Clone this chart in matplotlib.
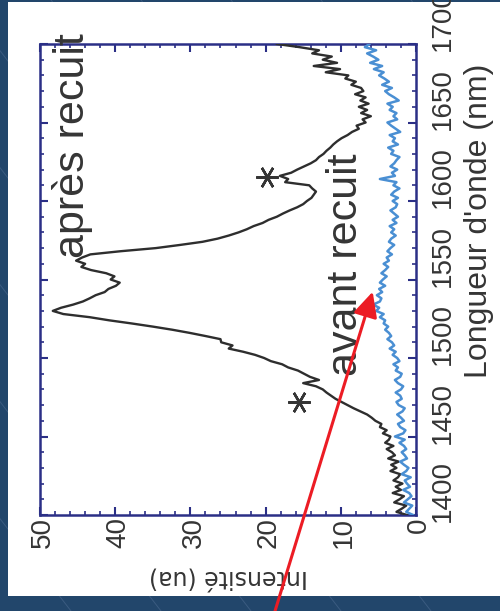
import matplotlib
matplotlib.use("Agg")
import matplotlib.pyplot as plt
from matplotlib import font_manager
from matplotlib.transforms import ScaledTranslation
from matplotlib.patches import Rectangle
from matplotlib.lines import Line2D

# ---------------------------------------------------------------- data
wavelength_nm = list(range(1400, 1702, 2))

intensity_apres = [
    1.2, 2.6, 1.9, 1.3, 2.9, 2.2, 1.6, 3.1, 2.0, 2.7,        # 1400-1418
    1.8, 3.0, 2.4, 2.1, 3.4, 2.6, 3.3, 2.3, 3.7, 2.8,        # 1420-1438
    3.2, 3.9, 3.0, 4.1, 3.6, 3.4, 4.4, 3.9, 4.8, 4.6,        # 1440-1458
    5.4, 5.9, 6.5, 7.4, 8.3, 9.1, 9.9, 10.7, 11.3, 11.9,     # 1460-1478
    12.4, 13.3, 15.0, 12.9, 14.1, 14.9, 15.7, 17.0, 17.8, 19.3,  # 1480-1498
    20.2, 21.4, 23.0, 24.9, 24.4, 25.9, 26.0, 28.0, 30.1, 32.4,  # 1500-1518
    35.0, 37.8, 40.8, 43.4, 46.9, 48.3, 47.2, 45.6, 44.3, 43.4,  # 1520-1538
    42.6, 41.4, 40.9, 39.9, 39.4, 40.6, 40.1, 41.2, 43.2, 44.5,  # 1540-1558
    44.0, 45.2, 44.4, 43.3, 39.3, 34.6, 31.4, 28.4, 26.4, 24.9,  # 1560-1578
    23.6, 22.5, 21.6, 20.4, 19.6, 18.5, 17.7, 16.8, 15.8, 15.0,  # 1580-1598
    14.5, 13.9, 13.6, 13.3, 13.8, 14.2, 17.4, 17.0, 18.1, 16.6,  # 1600-1618
    15.8, 14.9, 14.0, 13.3, 12.9, 12.3, 11.9, 11.4, 11.0, 10.5,  # 1620-1638
    9.9, 9.1, 8.5, 7.6, 7.9, 6.7, 7.1, 6.0, 7.3, 6.5,        # 1640-1658
    7.6, 6.3, 7.4, 6.7, 8.1, 7.0, 7.3, 8.6, 8.0, 9.4,        # 1660-1678
    9.0, 12.0, 10.1, 13.6, 10.5, 12.4, 11.2, 13.8, 12.9, 15.5,   # 1680-1698
    18.5,                                                    # 1700
]

intensity_avant = [
    0.4, 1.3, 0.9, 0.5, 1.6, 1.1, 0.6, 0.9, 1.7, 0.8,        # 1400-1418
    1.2, 1.5, 0.7, 1.9, 1.3, 1.0, 1.6, 2.1, 1.2, 1.5,        # 1420-1438
    1.9, 1.3, 1.6, 2.2, 1.5, 2.8, 1.7, 1.4, 2.1, 2.4,        # 1440-1458
    1.6, 2.0, 2.5, 1.8, 1.5, 2.3, 2.6, 1.9, 2.1, 2.7,        # 1460-1478
    2.0, 1.7, 2.4, 2.8, 2.1, 1.9, 2.7, 2.4, 3.0, 2.2,        # 1480-1498
    2.5, 3.1, 2.7, 3.5, 2.9, 3.2, 3.8, 3.3, 3.6, 4.1,        # 1500-1518
    3.7, 4.3, 4.1, 4.8, 4.3, 5.3, 4.9, 5.7, 4.8, 4.6,        # 1520-1538
    5.2, 4.5, 4.9, 4.1, 4.8, 4.4, 3.9, 4.6, 4.1, 3.7,        # 1540-1558
    4.3, 3.6, 3.9, 3.2, 3.8, 3.4, 2.9, 3.6, 3.3, 2.7,        # 1560-1578
    3.3, 2.9, 3.5, 2.6, 3.1, 2.4, 2.9, 3.4, 2.7, 2.5,        # 1580-1598
    3.1, 2.4, 3.3, 2.9, 2.2, 3.0, 2.6, 4.8, 2.8, 3.2,        # 1600-1618
    2.5, 3.4, 2.9, 2.6, 2.2, 3.3, 3.0, 3.7, 2.4, 3.1,        # 1620-1638
    2.8, 3.5, 2.1, 2.7, 3.3, 3.8, 2.5, 3.0, 2.6, 3.5,        # 1640-1658
    3.1, 3.8, 2.3, 2.9, 3.6, 4.1, 3.2, 4.5, 3.6, 4.2,        # 1660-1678
    4.9, 4.3, 5.6, 4.5, 6.1, 5.0, 5.7, 6.5, 5.3, 6.8,        # 1680-1698
    6.2,                                                     # 1700
]

intensity_ticks = [0, 10, 20, 30, 40, 50]
wavelength_ticks = [1400, 1450, 1500, 1550, 1600, 1650, 1700]

# marked features (intensity, wavelength)
star_intensity = [15.6, 19.8]
star_wavelength = [1472, 1615.6]

# ---------------------------------------------------------------- fonts
installed = {f.name for f in font_manager.fontManager.ttflist}
arial_like = "Liberation Sans" if "Liberation Sans" in installed else "DejaVu Sans"
if "Liberation Sans Narrow" in installed:
    tick_font, tick_size = "Liberation Sans Narrow", 23
else:
    tick_font, tick_size = arial_like, 20

navy = "#2b2f86"
text_grey = "#353535"

# ---------------------------------------------------------------- figure
W, H = 500, 611
fig = plt.figure(figsize=(W / 100, H / 100), dpi=100)
fig.patch.set_facecolor("#22466b")

# faint diagonal rules on the slide background
for k in range(-12, 8):
    c = -39 + 90 * k
    fig.add_artist(Line2D([c / W, (c + 470) / W], [1.0, 0.0],
                          transform=fig.transFigure, color="#3b5b80",
                          lw=0.7, zorder=-3))

# white slide panel
fig.add_artist(Rectangle((7.5 / W, 15 / H), 1 - 7.5 / W, (609 - 15) / H,
                         transform=fig.transFigure, facecolor="white",
                         edgecolor="none", zorder=-2))

ax = fig.add_axes([40 / W, 1 - 515 / H, 376 / W, 471 / H])
ax.set_facecolor("white")

ax.plot(intensity_apres, wavelength_nm, color="#2e2e2e", lw=1.7, zorder=3)
ax.plot(intensity_avant, wavelength_nm, color="#4a8fd3", lw=1.8, zorder=4)

ax.plot(star_intensity, star_wavelength, linestyle="none",
        marker=(6, 2, 90), markersize=16, markeredgewidth=1.8,
        color=text_grey, zorder=5)

ax.set_xlim(50, 0)
ax.set_ylim(1400, 1700)
ax.set_xticks(intensity_ticks)
ax.set_yticks(wavelength_ticks)
ax.set_xticks(range(0, 51, 2), minor=True)
ax.set_yticks(range(1400, 1701, 10), minor=True)

for sp in ax.spines.values():
    sp.set_color(navy)
    sp.set_linewidth(1.8)

ax.tick_params(which="both", direction="in", top=True, right=True,
               color=navy, labelcolor=text_grey)
ax.tick_params(which="major", length=6, width=1.5)
ax.tick_params(which="minor", length=3, width=1.2)
ax.tick_params(axis="x", labelrotation=90, pad=1.5, labelsize=tick_size,
               labelfontfamily=tick_font)
ax.tick_params(axis="y", labelleft=False, labelright=True, labelrotation=90,
               pad=10, labelsize=tick_size, labelfontfamily=tick_font)

dy = ScaledTranslation(0, 17 / 72, fig.dpi_scale_trans)
for lab in ax.yaxis.get_majorticklabels():
    lab.set_verticalalignment("center")
    lab.set_transform(lab.get_transform() + dy)
dx = ScaledTranslation(0.03, 0, fig.dpi_scale_trans)
for lab in ax.xaxis.get_majorticklabels():
    lab.set_transform(lab.get_transform() + dx)

ax.set_xlabel("Intensité (ua)", rotation=180, fontsize=17,
              family="DejaVu Sans", color=text_grey)
ax.xaxis.set_label_coords(0.5, (515 - 577) / 471)
ax.xaxis.label.set(ha="center", va="center")

ax.yaxis.set_label_position("right")
ax.set_ylabel("Longueur d'onde (nm)", rotation=90, fontsize=23,
              family=arial_like, color=text_grey)
ax.yaxis.set_label_coords((479 - 40) / 376, (515 - 221) / 471)
ax.yaxis.label.set(ha="center", va="center")

ax.text(44.1, 1563.7, "après recuit", rotation=90, rotation_mode="anchor",
        ha="left", va="baseline", fontsize=31, family=arial_like,
        color=text_grey, zorder=6)
ax.text(7.85, 1488.5, "avant recuit", rotation=90, rotation_mode="anchor",
        ha="left", va="baseline", fontsize=31, family=arial_like,
        color=text_grey, zorder=6)

ax.annotate("", xy=(5.76, 1542.2), xycoords="data",
            xytext=(0.5426, -0.02), textcoords="figure fraction",
            arrowprops=dict(arrowstyle="-|>,head_length=0.84,head_width=0.41",
                            mutation_scale=18, color="#ec1c24", lw=2.2,
                            shrinkA=0, shrinkB=0),
            annotation_clip=False, zorder=7)

fig.savefig("out.png", dpi=100, facecolor=fig.get_facecolor())
